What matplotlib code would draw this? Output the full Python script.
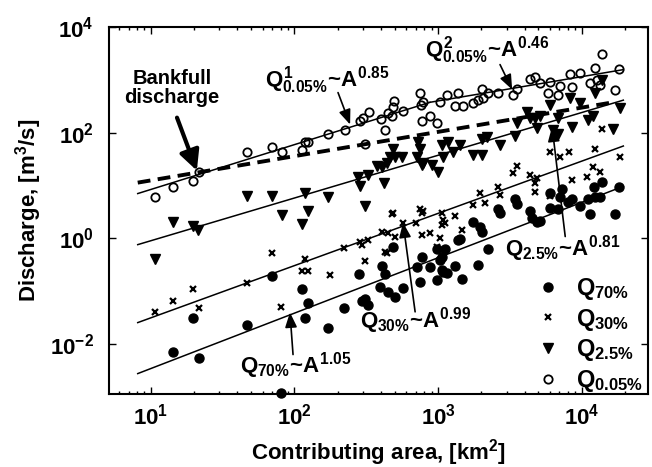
import numpy as np
import matplotlib
matplotlib.use('Agg')
import matplotlib.pyplot as plt
from matplotlib.ticker import NullLocator, LogLocator

# bold Helvetica-like text everywhere, maths included
plt.rcParams['font.family'] = 'Liberation Sans'
plt.rcParams['font.weight'] = 'bold'
plt.rcParams['axes.labelweight'] = 'bold'
plt.rcParams['mathtext.fontset'] = 'custom'
for key in ['rm', 'it', 'bf', 'sf']:
    plt.rcParams['mathtext.' + key] = 'Liberation Sans:bold'

# flow exceedance quantiles vs contributing area [km2], discharge [m3/s]
area_q005 = [10.7, 14.2, 19.6, 21.6, 46.7, 69.7, 81.8, 113, 118, 124, 171, 225, 286, 310,
             300, 330, 401, 427, 449, 486, 493, 478, 570, 750, 762, 774, 786, 879, 984,
             1033, 1156, 1378, 1313, 1493, 1754, 1901, 2027, 2060, 2230, 2620, 3334, 3556,
             4378, 4742, 5140, 6030, 5847, 6855, 7080, 8318, 8590, 9770, 11460, 12420,
             13900, 13460, 12830, 17100, 18240]
q_005 = [6.1, 9.5, 12.3, 18.2, 42, 54, 42, 46, 65, 67, 96, 114, 169, 62,
         192, 250, 184, 114, 239, 311, 404, 210, 261, 573, 340, 169, 387, 210, 155,
         387, 525, 573, 325, 325, 371, 423, 683, 461, 573, 573, 525, 683,
         1057, 1153, 888, 927, 573, 525, 778, 1313, 745, 1371, 888, 1706,
         3150, 813, 1012, 653, 1633]

area_q25 = [10.7, 14.2, 19.6, 21.3, 46.7, 69.7, 81.8, 113, 118, 124, 171, 310, 277, 286,
            325, 376, 407, 421, 441, 486, 463, 501, 561, 714, 750, 726, 774, 786, 908,
            1000, 1067, 1084, 1175, 1274, 1423, 1754, 2027, 2027, 2193, 2704, 3443, 3556,
            4170, 4378, 4742, 4898, 5140, 6030, 6324, 6855, 6855, 8318, 8590, 9770,
            11100, 12020, 12420, 13900, 16600, 18540]
q_25 = [0.41, 2.06, 1.73, 1.45, 6.4, 6.4, 2.7, 1.88, 7.3, 3.2, 6.1, 4.0, 14.7, 9.9,
        16.0, 23, 22, 11.3, 27, 48, 35, 35, 34, 35, 48, 65, 24, 27, 24,
        18.2, 59, 35, 65, 42, 57, 38, 38, 74, 84, 57, 88, 155,
        250, 192, 192, 124, 210, 340, 114, 192, 92, 461, 130, 371,
        176, 210, 573, 1012, 119, 298]

area_q30 = [10.7, 14.2, 19.6, 21.6, 46.7, 69.7, 80.5, 113, 118, 124, 177, 221, 286, 295,
            310, 325, 407, 427, 449, 441, 501, 478, 486, 570, 703, 750, 774, 786, 774,
            879, 1067, 1067, 1033, 1084, 984, 1119, 1313, 1469, 1754, 2128, 1963, 2620,
            2704, 3334, 3556, 4378, 4742, 4898, 4742, 6030, 7080, 8185, 8590, 10920,
            12020, 13460, 12420, 13900, 18540, 6030]
q_30 = [0.040, 0.063, 0.11, 0.048, 0.14, 0.53, 0.050, 0.24, 0.41, 0.24, 0.20, 0.66, 0.86, 0.75,
        0.37, 0.94, 1.33, 0.55, 1.27, 0.53, 1.07, 2.8, 3.0, 1.97, 1.97, 3.5, 3.0, 3.2, 1.16,
        1.27, 3.0, 1.80, 1.02, 2.2, 0.69, 1.97, 2.6, 1.45, 4.3, 4.7, 7.3, 9.5,
        6.7, 17.5, 23, 16.0, 11.3, 14.0, 7.6, 42, 34, 42, 12.9, 14.7,
        22, 18.2, 48, 119, 35, 6.4]

area_q70 = [14.2, 19.6, 21.6, 46.7, 69.7, 80.5, 113, 118, 124, 171, 221, 281, 295, 310,
            325, 407, 427, 394, 449, 501, 570, 486, 714, 774, 750, 879, 984, 1067, 1067,
            1119, 1033, 1084, 1156, 1313, 1469, 1423, 1754, 1963, 2027, 1901, 2230, 2620,
            2704, 3443, 3556, 4378, 4519, 4898, 5140, 6030, 6030, 6855, 7311, 7080, 8054,
            8590, 9770, 11460, 11100, 12420, 13460, 12220, 13900, 17100, 18240, 1378, 984]
q_70 = [0.0070, 0.031, 0.0054, 0.023, 0.19, 0.00118, 0.11, 0.031, 0.060, 0.020, 0.048, 0.21, 0.063, 0.071,
        0.055, 0.30, 0.21, 0.12, 0.097, 0.078, 0.115, 0.69, 0.28, 0.43, 0.15, 0.28, 0.16, 0.43, 0.25,
        0.61, 0.39, 0.23, 0.22, 0.29, 0.17, 0.98, 2.06, 1.65, 1.33, 0.31, 0.63, 3.5,
        3.0, 5.4, 4.5, 3.3, 2.4, 2.06, 2.1, 7.3, 3.8, 3.5, 8.7, 5.9, 4.9,
        5.4, 4.0, 2.8, 5.4, 5.9, 5.9, 9.1, 11.8, 2.8, 9.5, 0.94, 0.61]

# power-law fits Q = c * A^b
fit_c = {'q70': 3.0e-4, 'q30': 3.15e-3, 'q25': 0.138, 'q005_1': 1.18, 'q005_2': 16.6}
fit_b = {'q70': 1.05, 'q30': 0.99, 'q25': 0.81, 'q005_1': 0.85, 'q005_2': 0.46}
bankfull_c, bankfull_b = 4.3, 0.46
fit_range = (8.1, 19500)
bankfull_range = (8.1, 16600)

fig = plt.figure(figsize=(6.52, 4.67), dpi=100)
ax = fig.add_axes([0.167, 0.156, 0.827, 0.786])
ax.set_xscale('log')
ax.set_yscale('log')

a_fit = np.logspace(np.log10(fit_range[0]), np.log10(fit_range[1]), 100)
for key in ['q70', 'q30', 'q25']:
    ax.plot(a_fit, fit_c[key] * a_fit ** fit_b[key], 'k-', lw=1.1)

# two-segment fit for the 0.05% flow, joined where the segments cross
a_break = (fit_c['q005_2'] / fit_c['q005_1']) ** (1.0 / (fit_b['q005_1'] - fit_b['q005_2']))
a1 = np.logspace(np.log10(fit_range[0]), np.log10(a_break), 50)
a2 = np.logspace(np.log10(a_break), np.log10(fit_range[1]), 50)
ax.plot(a1, fit_c['q005_1'] * a1 ** fit_b['q005_1'], 'k-', lw=1.1)
ax.plot(a2, fit_c['q005_2'] * a2 ** fit_b['q005_2'], 'k-', lw=1.1)

a_bf = np.logspace(np.log10(bankfull_range[0]), np.log10(bankfull_range[1]), 100)
ax.plot(a_bf, bankfull_c * a_bf ** bankfull_b, 'k--', lw=2.8, dashes=(3.3, 1.9))

ax.plot(area_q70, q_70, 'o', color='k', ms=6.5, ls='none', clip_on=False, label=r'$Q_{70\%}$')
ax.plot(area_q30, q_30, 'x', color='k', ms=4.8, mew=1.6, ls='none', label=r'$Q_{30\%}$')
ax.plot(area_q25, q_25, 'v', color='k', ms=7.5, ls='none', label=r'$Q_{2.5\%}$')
ax.plot(area_q005, q_005, 'o', mfc='none', mec='k', ms=6, mew=1.3, ls='none', label=r'$Q_{0.05\%}$')

ax.set_xlim(5.1, 29000)
ax.set_ylim(1.1e-3, 1e4)
ax.set_yticks([1e-2, 1, 1e2, 1e4])
ax.yaxis.set_minor_locator(NullLocator())
ax.xaxis.set_major_locator(LogLocator(base=10, numticks=10))
ax.tick_params(which='both', direction='in', top=True, right=True, width=1.0)
ax.tick_params(which='major', length=5, labelsize=16)
ax.tick_params(which='minor', length=2.5)
ax.tick_params(axis='x', pad=7)
ax.tick_params(axis='y', pad=11)
for sp in ax.spines.values():
    sp.set_linewidth(1.5)

ax.set_xlabel(r'Contributing area, [km$^2$]', fontsize=16, fontweight='bold')
ax.set_ylabel(r'Discharge, [m$^3$/s]', fontsize=16, fontweight='bold')
ax.xaxis.set_label_coords(0.5, -0.117)
ax.yaxis.set_label_coords(-0.12, 0.5)

thin = dict(arrowstyle='-|>,head_length=0.5,head_width=0.2', color='k', lw=1.2,
            mutation_scale=18, shrinkA=0, shrinkB=0)
thick = dict(arrowstyle='-|>,head_length=0.6,head_width=0.3', color='k', lw=3,
             mutation_scale=20, shrinkA=0, shrinkB=0)

ax.text(14, 700, 'Bankfull\ndischarge', fontsize=14.5, ha='center', va='center', linespacing=1.0)
ax.annotate('', xy=(20.9, 19), xytext=(15.2, 192), arrowprops=thick)

ax.text(62, 745, r'$Q^1_{0.05\%}$~$A^{0.85}$', fontsize=16, ha='left', va='baseline')
ax.annotate('', xy=(244, 142), xytext=(201, 573), arrowprops=thin)

ax.text(811, 2760, r'$Q^2_{0.05\%}$~$A^{0.46}$', fontsize=16, ha='left', va='baseline')
ax.annotate('', xy=(3280, 653), xytext=(2700, 1945), arrowprops=thin)

ax.text(2930, 0.466, r'$Q_{2.5\%}$~$A^{0.81}$', fontsize=16, ha='left', va='baseline')
ax.annotate('', xy=(6220, 130), xytext=(7680, 1.07), arrowprops=thin)

ax.text(286, 0.020, r'$Q_{30\%}$~$A^{0.99}$', fontsize=16, ha='left', va='baseline')
ax.annotate('', xy=(570, 1.97), xytext=(692, 0.040), arrowprops=thin)

ax.text(41.7, 0.0028, r'$Q_{70\%}$~$A^{1.05}$', fontsize=16, ha='left', va='baseline')
ax.annotate('', xy=(93, 0.039), xytext=(97.7, 0.0062), arrowprops=thin)

ax.legend(loc='lower right', bbox_to_anchor=(0.99, 0.0), frameon=False, fontsize=17,
          handlelength=1.0, handletextpad=0.7, labelspacing=0.2, borderpad=0,
          borderaxespad=0)

fig.savefig('out.png', dpi=100)
